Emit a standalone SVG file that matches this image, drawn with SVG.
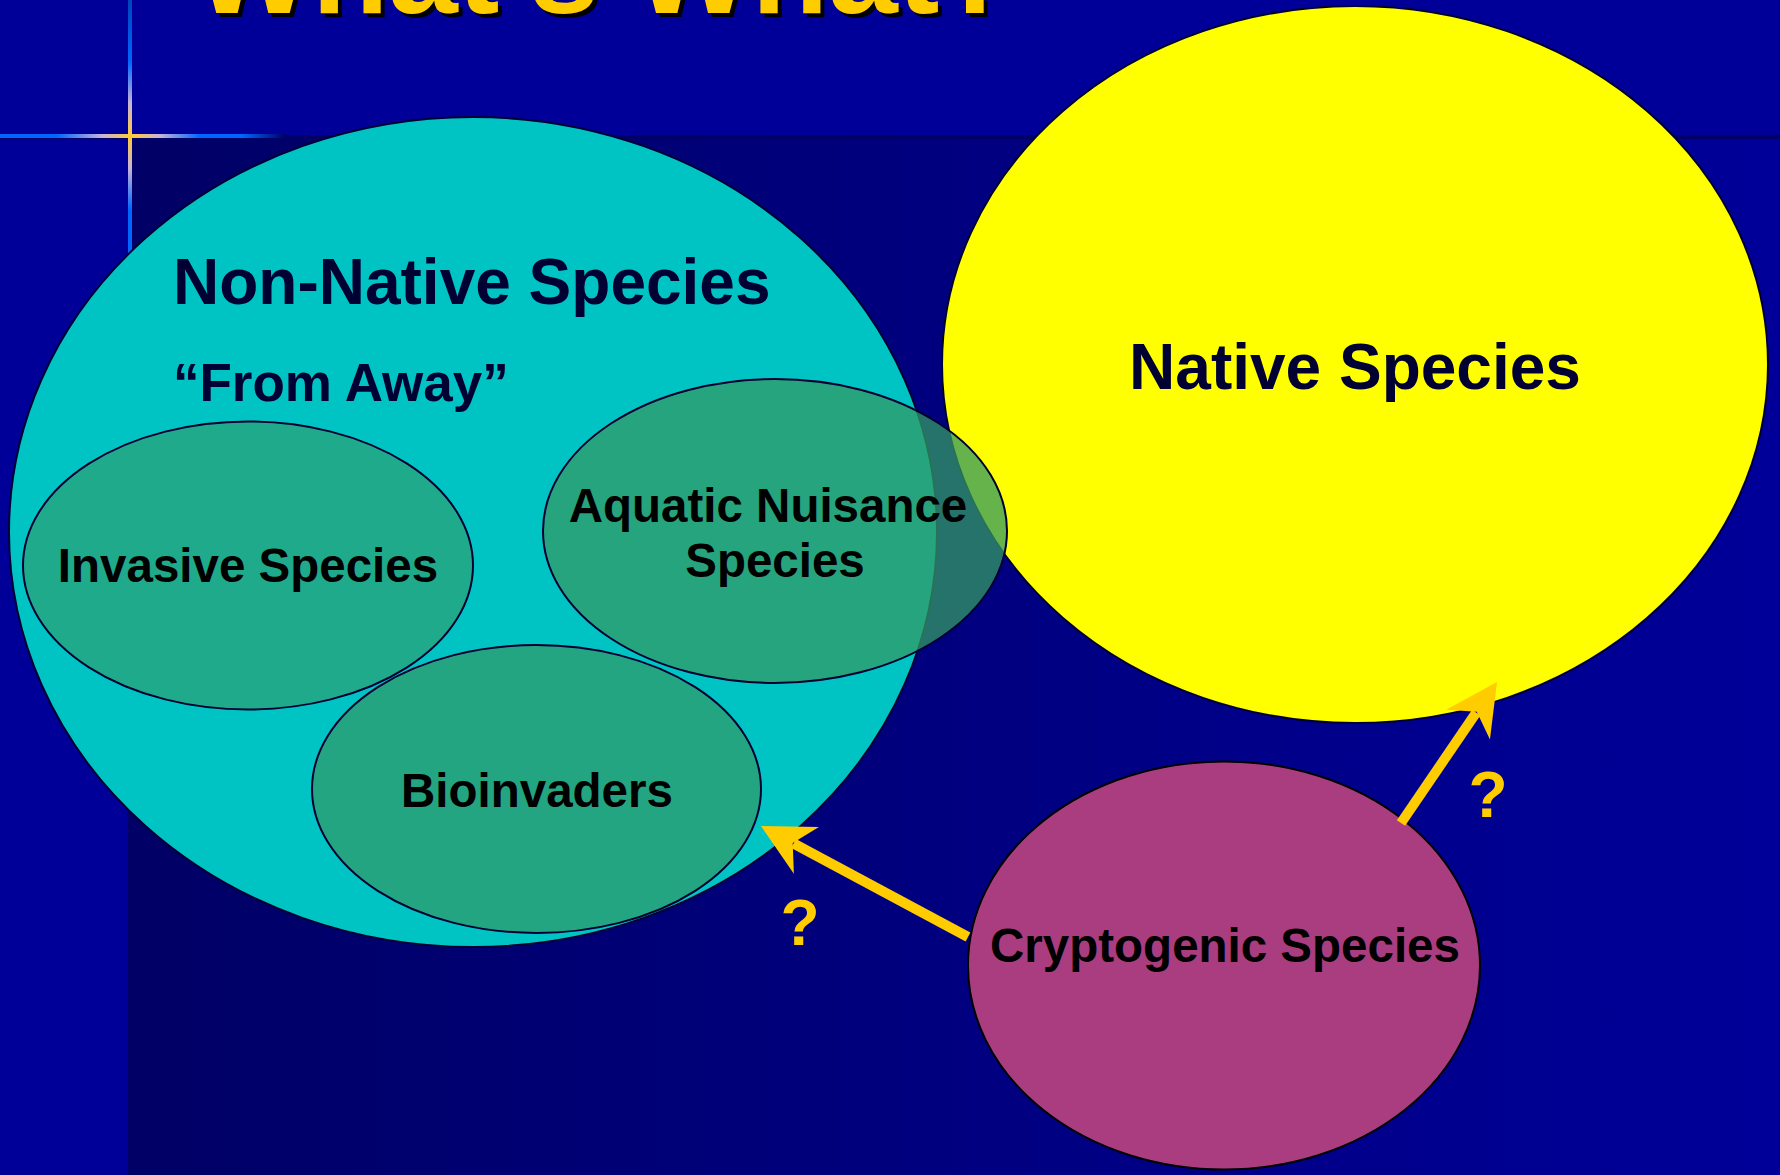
<svg xmlns="http://www.w3.org/2000/svg" width="1780" height="1175" viewBox="0 0 1780 1175">
  <defs>
    <linearGradient id="bgGrad" x1="0" y1="0" x2="1" y2="0">
      <stop offset="0" stop-color="#000066"/>
      <stop offset="1" stop-color="#000099"/>
    </linearGradient>
    <linearGradient id="hLine" gradientUnits="userSpaceOnUse" x1="0" y1="0" x2="285" y2="0">
      <stop offset="0" stop-color="#0066ff"/>
      <stop offset="0.2" stop-color="#0066ff"/>
      <stop offset="0.36" stop-color="#c8b4d8"/>
      <stop offset="0.46" stop-color="#ffcc33"/>
      <stop offset="0.56" stop-color="#c8b4d8"/>
      <stop offset="0.7" stop-color="#0066ff"/>
      <stop offset="0.85" stop-color="#0066ff"/>
      <stop offset="1" stop-color="#000066"/>
    </linearGradient>
    <linearGradient id="vLine" gradientUnits="userSpaceOnUse" x1="0" y1="0" x2="0" y2="280">
      <stop offset="0" stop-color="#0044bb"/>
      <stop offset="0.22" stop-color="#0066ff"/>
      <stop offset="0.37" stop-color="#c8b4d8"/>
      <stop offset="0.486" stop-color="#ffcc33"/>
      <stop offset="0.6" stop-color="#c8b4d8"/>
      <stop offset="0.75" stop-color="#0066ff"/>
      <stop offset="1" stop-color="#0066ff"/>
    </linearGradient>
    <marker id="stealth" markerUnits="userSpaceOnUse" orient="auto" refX="0" refY="0" markerWidth="120" markerHeight="120" viewBox="-60 -60 120 120" overflow="visible">
      <path d="M37,0 L-14.5,-26.5 L1,0 L-14.5,26.5 Z" fill="#ffcc00"/>
    </marker>
  </defs>
  <style>
    text { font-family: "Liberation Sans", Arial, Helvetica, sans-serif; font-weight: bold; }
    .lbl { fill: #000000; font-size: 47.5px; text-anchor: middle; }
    .head { fill: #000033; }
    .q { fill: #ffcc00; font-size: 64px; text-anchor: middle; }
    .conn { stroke: #ffcc00; stroke-width: 10; fill: none; marker-end: url(#stealth); }
    .edge { stroke: #000033; stroke-width: 2; }
    .green { fill: #339966; }
  </style>

  <!-- background -->
  <rect x="0" y="0" width="1780" height="1175" fill="#000099"/>
  <rect x="128" y="137" width="1652" height="1038" fill="url(#bgGrad)"/>
  <rect x="0" y="135" width="1780" height="4" fill="#000066"/>
  <rect x="0" y="134" width="285" height="4" fill="url(#hLine)"/>
  <rect x="128" y="0" width="4" height="280" fill="url(#vLine)"/>

  <!-- title (cut off at top) -->
  <g id="title">
    <text x="198" y="17" font-size="125" fill="#000000">What’s What?</text>
    <text x="194" y="13" font-size="125" fill="#ffcc00">What’s What?</text>
  </g>

  <g id="non-native">
    <ellipse cx="473" cy="532" rx="464" ry="415" fill="#00c4c4" class="edge"/>
    <text class="head" x="173" y="304" font-size="64">Non-Native Species</text>
    <text class="head" x="173" y="401" font-size="53">“From Away”</text>
  </g>

  <g id="native">
    <ellipse cx="1355" cy="364.5" rx="413" ry="358.5" fill="#ffff00" class="edge"/>
    <text class="head" x="1355" y="389" font-size="64" text-anchor="middle" fill="#000044">Native Species</text>
  </g>

  <g id="invasive">
    <ellipse cx="248" cy="565.5" rx="225" ry="144" class="green edge" fill-opacity="0.6"/>
    <text class="lbl" x="248" y="582">Invasive Species</text>
  </g>

  <g id="bioinvaders">
    <ellipse cx="536.5" cy="789" rx="224.5" ry="144" class="green edge" fill-opacity="0.7"/>
    <text class="lbl" x="537" y="807">Bioinvaders</text>
  </g>

  <g id="aquatic-nuisance">
    <ellipse cx="775" cy="531" rx="232" ry="152" class="green edge" fill-opacity="0.75"/>
    <text class="lbl" x="768" y="522">Aquatic Nuisance</text>
    <text class="lbl" x="775" y="577">Species</text>
  </g>

  <g id="cryptogenic">
    <ellipse cx="1224" cy="965.5" rx="256" ry="204" fill="#aa3d80" stroke="#000000" stroke-width="2"/>
    <text class="lbl" x="1225" y="962">Cryptogenic Species</text>
  </g>

  <g id="connectors">
    <line class="conn" x1="968" y1="937" x2="793.6" y2="843.5"/>
    <line class="conn" x1="1401" y1="823" x2="1476.2" y2="712.6"/>
    <text class="q" x="800" y="945">?</text>
    <text class="q" x="1488" y="817">?</text>
  </g>
</svg>
